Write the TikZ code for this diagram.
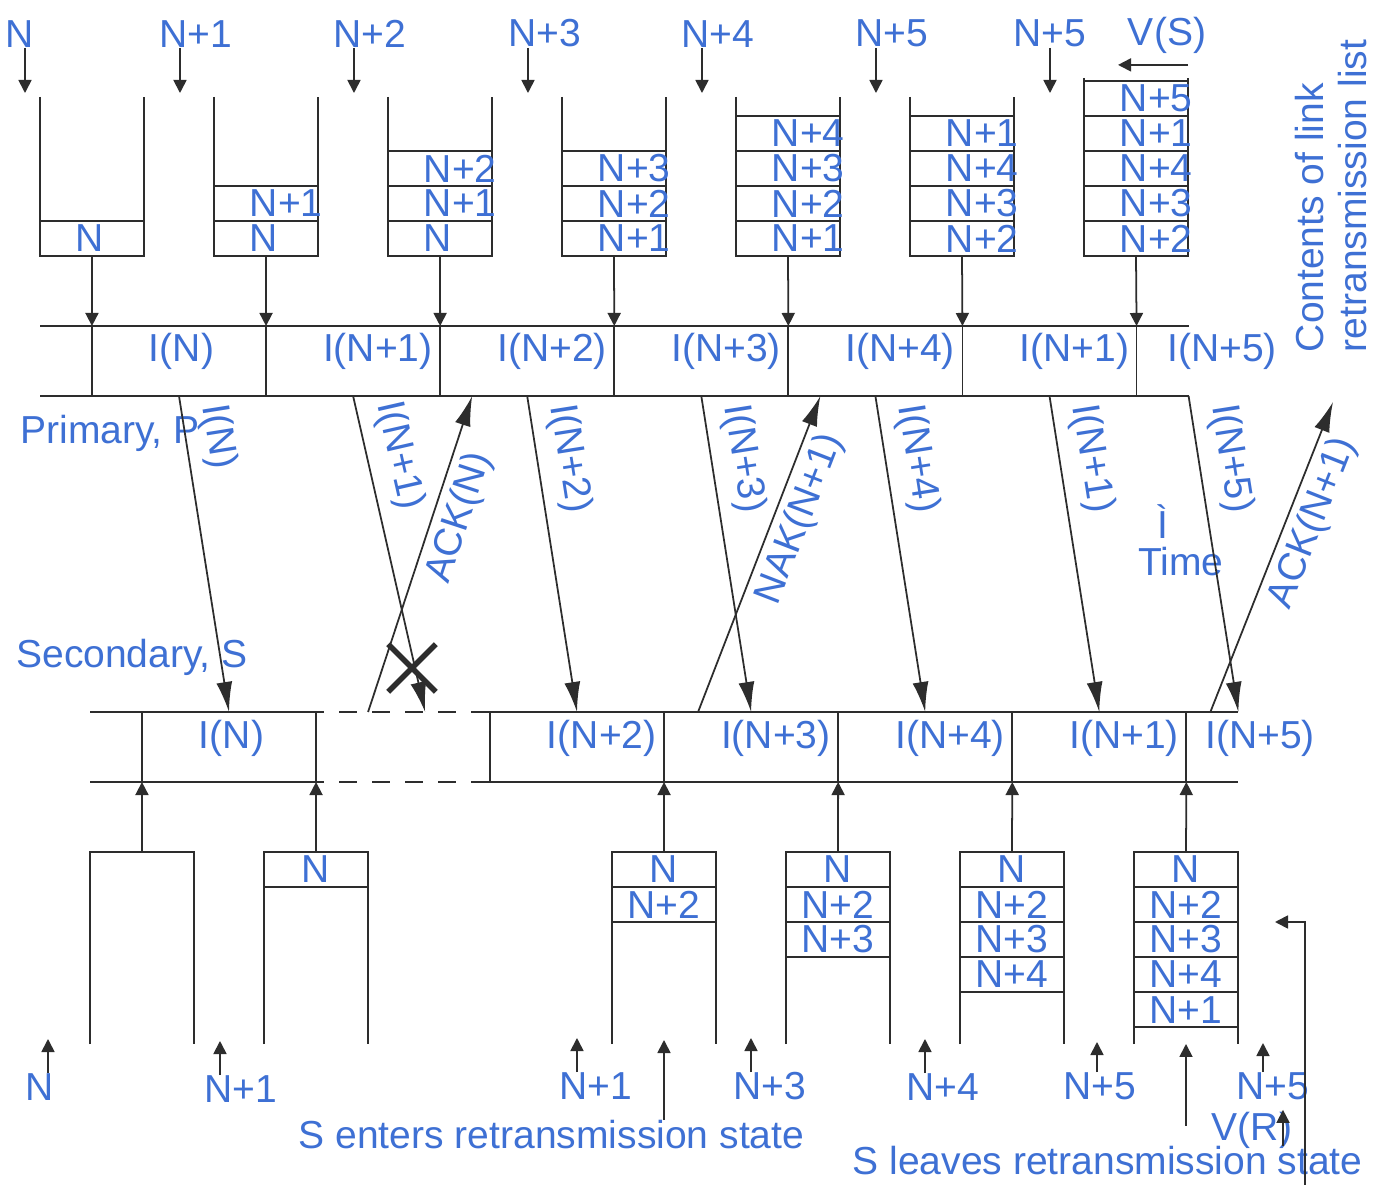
\documentclass[tikz,border=0pt]{standalone}
\usepackage{fontspec}
\setmainfont{Liberation Sans}
\usetikzlibrary{positioning,arrows.meta,shapes.misc}
\definecolor{arqBlue}{RGB}{62,112,212}
\definecolor{arqInk}{RGB}{45,45,45}

\begin{document}
\begin{tikzpicture}[
    x=0.01cm, y=-0.01cm,
    node distance=0pt,
    lbl/.style={font=\fontsize{11.1}{12}\selectfont, text=arqBlue, inner sep=0pt},
    wire/.style={draw=arqInk, line width=0.5pt},
    tick/.style={wire, -{Triangle[length=1.3mm, width=1.3mm]}},
    msg/.style={wire, -{Latex[length=3mm, width=1.6mm]}},
    tcell/.style={lbl, wire, outer sep=0pt, minimum height=0.35cm, text width=1.04cm, align=left, execute at begin node={\hspace*{3.6mm}}},
    bcell/.style={lbl, wire, outer sep=0pt, minimum height=0.35cm, minimum width=1.04cm},
    lane/.style={lbl, wire, outer sep=0pt, text width=1.74cm, align=left, text height=0.36cm, text depth=0.34cm, execute at begin node={\hspace*{5.7mm}}},
    loose/.style={lbl, text height=0.36cm, text depth=0.34cm},
    fwd/.style={lbl, sloped, pos=0, anchor=south west, inner sep=3.6pt},
    bwd/.style={lbl, sloped, pos=0.64, below, inner sep=2pt},
    lost/.style={cross out, draw=arqInk, line width=1.6pt, minimum size=0.42cm, inner sep=0pt}
]
  \fill[white] (0,0) rectangle (1390,1185);
  \useasboundingbox (0,0) rectangle (1390,1185);

  % frames handed to the primary
  \node[lbl, anchor=south] (inN) at (20,48) {N};
  \node[lbl, anchor=south] (inN1) at (196,48) {N+1};
  \node[lbl, anchor=south] (inN2) at (370,48) {N+2};
  \node[lbl, anchor=south] (inN3) at (545,48) {N+3};
  \node[lbl, anchor=south] (inN4) at (718,48) {N+4};
  \node[lbl, anchor=south] (inN5) at (892,48) {N+5};
  \node[lbl, anchor=south] (inN5b) at (1050,48) {N+5};
  \node[lbl, anchor=south] (vS) at (1167,54) {V(S)};
  \draw[tick] ([xshift=0.05cm]inN.south) -- ++(0,45);
  \draw[tick] ([xshift=-0.16cm]inN1.south) -- ++(0,45);
  \draw[tick] ([xshift=-0.16cm]inN2.south) -- ++(0,45);
  \draw[tick] ([xshift=-0.17cm]inN3.south) -- ++(0,45);
  \draw[tick] ([xshift=-0.16cm]inN4.south) -- ++(0,45);
  \draw[tick] ([xshift=-0.16cm]inN5.south) -- ++(0,45);
  \draw[tick] (inN5b.south) -- ++(0,45);

  % retransmission list at P
  \draw[wire] (40,97) |- (144,256) -- (144,97);
  \node[tcell] (b1a) at (92,238.5) {N};

  \draw[wire] (214,97) |- (318,256) -- (318,97);
  \node[tcell] (b2a) at (266,238.5) {N};
  \node[tcell, above=of b2a] (b2b) {N+1};

  \draw[wire] (388,97) |- (492,256) -- (492,97);
  \node[tcell] (b3a) at (440,238.5) {N};
  \node[tcell, above=of b3a] (b3b) {N+1};
  \node[tcell, above=of b3b] (b3c) {N+2};

  \draw[wire] (562,97) |- (666,256) -- (666,97);
  \node[tcell] (b4a) at (614,238.5) {N+1};
  \node[tcell, above=of b4a] (b4b) {N+2};
  \node[tcell, above=of b4b] (b4c) {N+3};

  \draw[wire] (736,97) |- (840,256) -- (840,97);
  \node[tcell] (b5a) at (788,238.5) {N+1};
  \node[tcell, above=of b5a] (b5b) {N+2};
  \node[tcell, above=of b5b] (b5c) {N+3};
  \node[tcell, above=of b5c] (b5d) {N+4};

  \draw[wire] (910,97) |- (1014,256) -- (1014,97);
  \node[tcell] (b6a) at (962,238.5) {N+2};
  \node[tcell, above=of b6a] (b6b) {N+3};
  \node[tcell, above=of b6b] (b6c) {N+4};
  \node[tcell, above=of b6c] (b6d) {N+1};

  \draw[wire] (1084,78) |- (1188,256) -- (1188,78);
  \node[tcell] (b7a) at (1136,238.5) {N+2};
  \node[tcell, above=of b7a] (b7b) {N+3};
  \node[tcell, above=of b7b] (b7c) {N+4};
  \node[tcell, above=of b7c] (b7d) {N+1};
  \node[tcell, above=of b7d] (b7e) {N+5};
  \draw[tick] ([yshift=0.16cm]b7e.north east) -- ++(-70,0);

  % primary link
  \node[lane] (pN) at (179,361) {I(N)};
  \node[lane, right=of pN] (pN1) {I(N+1)};
  \node[lane, right=of pN1] (pN2) {I(N+2)};
  \node[lane, right=of pN2] (pN3) {I(N+3)};
  \node[lane, right=of pN3] (pN4) {I(N+4)};
  \node[lane, right=of pN4] (pN1r) {I(N+1)};
  \node[loose] (pN5) at (1222,361) {I(N+5)};
  \draw[wire] (pN.north west) -- ++(-52,0);
  \draw[wire] (pN.south west) -- ++(-52,0);
  \draw[wire] (pN1r.north east) -- ++(52,0);
  \coordinate (pEnd) at ([xshift=0.52cm]pN1r.south east);
  \draw[wire] (pN1r.south east) -- (pEnd);

  \draw[tick] (b1a.south) -- (pN.north west);
  \draw[tick] (b2a.south) -- (pN.north east);
  \draw[tick] (b3a.south) -- (pN1.north east);
  \draw[tick] (b4a.south) -- (pN2.north east);
  \draw[tick] (b5a.south) -- (pN3.north east);
  \draw[tick] (b6a.south) -- (pN4.north east);
  \draw[tick] (b7a.south) -- (pN1r.north east);

  \node[lbl] (prim) at (110,433) {Primary, P};
  \node[lbl] (sec) at (132,657) {Secondary, S};
  \node[lbl] (tmark) at (1163,522) {Ì};
  \node[lbl] (time) at (1181,562) {Time};
  \node[lbl, rotate=90, align=left] (listnote) at (1331,196) {Contents of link\\retransmission list};

  % secondary link
  \node[lane] (sN) at (229,747) {I(N)};
  \node[lane] (sN2) at (577,747) {I(N+2)};
  \node[lane, right=of sN2] (sN3) {I(N+3)};
  \node[lane, right=of sN3] (sN4) {I(N+4)};
  \node[lane, right=of sN4] (sN1r) {I(N+1)};
  \node[loose] (sN5) at (1260,747) {I(N+5)};
  \draw[wire] (sN.north west) -- ++(-52,0);
  \draw[wire] (sN.south west) -- ++(-52,0);
  \draw[wire, dash pattern=on 0.18cm off 0.15cm, dash phase=0.1cm] (sN.north east) -- (sN2.north west);
  \draw[wire, dash pattern=on 0.18cm off 0.15cm, dash phase=0.1cm] (sN.south east) -- (sN2.south west);
  \coordinate (sEnd) at ([xshift=0.52cm]sN1r.north east);
  \draw[wire] (sN1r.north east) -- (sEnd);
  \draw[wire] (sN1r.south east) -- ++(52,0);

  % frames on the link
  \coordinate (lossN1) at ([xshift=1.09cm]sN.north east);
  \coordinate (ackNfrom) at ([xshift=0.52cm]sN.north east);
  \coordinate (ackNto) at ([xshift=0.32cm]pN2.south west);
  \coordinate (nakFrom) at ([xshift=0.34cm]sN3.north west);
  \coordinate (nakTo) at ([xshift=0.32cm]pN4.south west);
  \coordinate (ack1From) at ([xshift=0.24cm]sN1r.north east);
  \coordinate (ack1To) at (1333,402);

  \draw[msg] (pN.south) -- node[fwd] {I(N)} (sN.north);
  \draw[msg] (pN1.south) -- node[fwd] {I(N+1)} (lossN1);
  \draw[msg] (ackNfrom) -- node[bwd] {ACK(N)} (ackNto);
  \draw[msg] (pN2.south) -- node[fwd] {I(N+2)} (sN2.north);
  \draw[msg] (pN3.south) -- node[fwd] {I(N+3)} (sN3.north);
  \draw[msg] (nakFrom) -- node[bwd] {NAK(N+1)} (nakTo);
  \draw[msg] (pN4.south) -- node[fwd] {I(N+4)} (sN4.north);
  \draw[msg] (pN1r.south) -- node[fwd] {I(N+1)} (sN1r.north);
  \draw[msg] (pEnd) -- node[fwd] {I(N+5)} (sEnd);
  \draw[msg] (ack1From) -- node[bwd] {ACK(N+1)} (ack1To);
  \node[lost] (lost) at (412,668) {};

  % receive buffers at S
  \draw[wire] (90,1044) |- (194,852) -- (194,1044);
  \coordinate (r1top) at (142,852);
  \draw[tick] (r1top) -- (sN.south west);

  \draw[wire] (264,1044) |- (368,852) -- (368,1044);
  \node[bcell] (r2a) at (316,869.5) {N};
  \draw[tick] (r2a.north) -- (sN.south east);

  \draw[wire] (612,1044) |- (716,852) -- (716,1044);
  \node[bcell] (r3a) at (664,869.5) {N};
  \node[bcell, below=of r3a] (r3b) {N+2};
  \draw[tick] (r3a.north) -- (sN2.south east);

  \draw[wire] (786,1044) |- (890,852) -- (890,1044);
  \node[bcell] (r4a) at (838,869.5) {N};
  \node[bcell, below=of r4a] (r4b) {N+2};
  \node[bcell, below=of r4b] (r4c) {N+3};
  \draw[tick] (r4a.north) -- (sN3.south east);

  \draw[wire] (960,1044) |- (1064,852) -- (1064,1044);
  \node[bcell] (r5a) at (1012,869.5) {N};
  \node[bcell, below=of r5a] (r5b) {N+2};
  \node[bcell, below=of r5b] (r5c) {N+3};
  \node[bcell, below=of r5c] (r5d) {N+4};
  \draw[tick] (r5a.north) -- (sN4.south east);

  \draw[wire] (1134,1044) |- (1238,852) -- (1238,1044);
  \node[bcell] (r6a) at (1186,869.5) {N};
  \node[bcell, below=of r6a] (r6b) {N+2};
  \node[bcell, below=of r6b] (r6c) {N+3};
  \node[bcell, below=of r6c] (r6d) {N+4};
  \node[bcell, below=of r6d] (r6e) {N+1};
  \draw[tick] (r6a.north) -- (sN1r.south east);

  % frames arriving at S
  \node[lbl, anchor=north] (oN) at (40,1073) {N};
  \node[lbl, anchor=north] (oN1) at (241,1075) {N+1};
  \node[lbl, anchor=north] (oN1b) at (596,1072) {N+1};
  \node[lbl, anchor=north] (oN3) at (770,1072) {N+3};
  \node[lbl, anchor=north] (oN4) at (943,1073) {N+4};
  \node[lbl, anchor=north] (oN5) at (1100,1072) {N+5};
  \node[lbl, anchor=north] (oN5b) at (1273,1072) {N+5};
  \draw[tick] ([xshift=0.08cm]oN.north) -- ++(0,-34);
  \draw[tick] ([xshift=-0.21cm]oN1.north) -- ++(0,-34);
  \draw[tick] ([xshift=-0.19cm]oN1b.north) -- ++(0,-34);
  \draw[tick] ([xshift=-0.19cm]oN3.north) -- ++(0,-34);
  \draw[tick] ([xshift=-0.18cm]oN4.north) -- ++(0,-34);
  \draw[tick] ([xshift=-0.03cm]oN5.north) -- ++(0,-30);
  \draw[tick] ([xshift=-0.10cm]oN5b.north) -- ++(0,-29);

  \node[lbl, anchor=north west] (enter) at (298,1120) {S enters retransmission state};
  \draw[tick] (enter.north -| r3a) -- ++(0,-80);
  \node[lbl, anchor=north west] (leave) at (852,1146) {S leaves retransmission state};
  \draw[tick] ([yshift=0.2cm]leave.north -| r6a) -- ++(0,-82);

  \node[lbl] (vR) at (1252,1130) {V(R)};
  \draw[tick] ([xshift=0.31cm, yshift=0.03cm]vR.south) -- ++(0,-36);
  \coordinate (vrBase) at (1305,1185);
  \coordinate (vrTip) at (1275,922);
  \draw[tick] (vrBase) |- (vrTip);
\end{tikzpicture}
\end{document}
